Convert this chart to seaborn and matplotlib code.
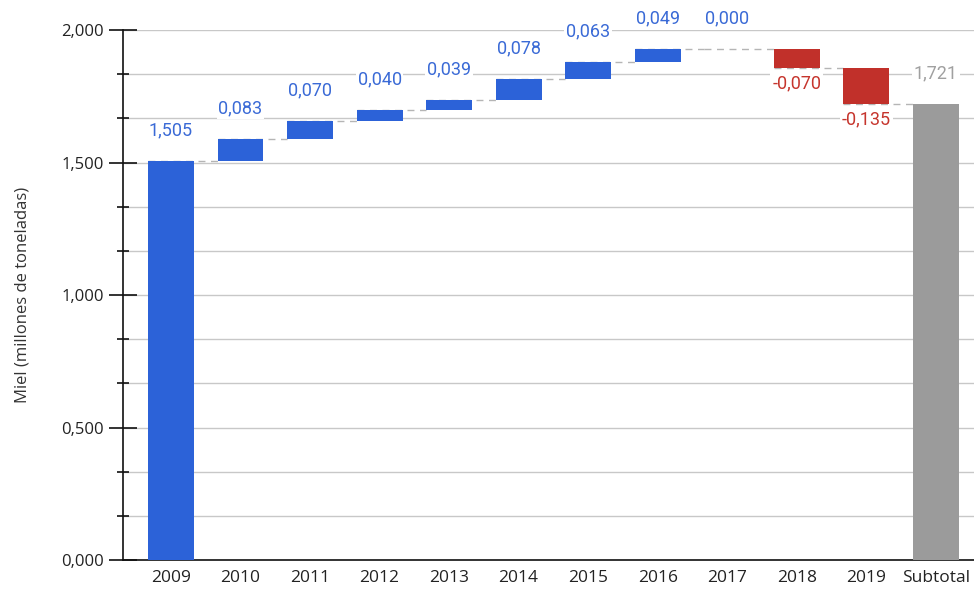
import numpy as np
import pandas as pd
import matplotlib
matplotlib.use("Agg")
import matplotlib.pyplot as plt
import seaborn as sns

# Honey production change by year (millions of tonnes)
categories = ["2009", "2010", "2011", "2012", "2013", "2014", "2015",
              "2016", "2017", "2018", "2019", "Subtotal"]
deltas = [1.505, 0.083, 0.070, 0.040, 0.039, 0.078, 0.063,
          0.049, 0.000, -0.070, -0.135]
subtotal = 1.721
ytick_values = [0.0, 0.5, 1.0, 1.5, 2.0]
ytick_labels = ["0,000", "0,500", "1,000", "1,500", "2,000"]

BLUE = "#2c62d8"
RED = "#c1302a"
GRAY = "#9b9b9b"
BLUE_TXT = "#3a6ad6"
RED_TXT = "#c6352d"
GRAY_TXT = "#a0a0a0"

# Waterfall geometry: running level before/after each step
ends = np.cumsum(deltas)
starts = np.concatenate([[0.0], ends[:-1]])
bottoms = list(np.minimum(starts, ends)) + [0.0]
heights = list(np.abs(deltas)) + [subtotal]
kinds = ["up" if d >= 0 else "down" for d in deltas] + ["total"]
colors = [{"up": BLUE, "down": RED, "total": GRAY}[k] for k in kinds]

df = pd.DataFrame({"cat": categories, "height": heights,
                   "bottom": bottoms, "kind": kinds})

sns.set_theme(style="white")
plt.rcParams["font.family"] = ["Open Sans", "DejaVu Sans"]

fig = plt.figure(figsize=(9.74, 5.90), dpi=100)
ax = fig.add_axes([0.1263, 0.0508, 0.8737, 0.8983])

w = 0.66
sns.barplot(data=df, x="cat", y="height", hue="cat", palette=colors,
            order=categories, hue_order=categories, legend=False,
            width=w, saturation=1, ax=ax, zorder=3)

# lift each bar onto its running base; no outlines
for patch, b, h in zip(ax.patches, df["bottom"], df["height"]):
    patch.set_y(b)
    patch.set_linewidth(0)
    if h == 0:
        patch.set_visible(False)

# dashed connectors: from each bar's left edge to the next bar's left edge
for i, lvl in enumerate(ends):
    ax.plot([i - w / 2, i + 1 - w / 2], [lvl, lvl], color="#b5b5b5",
            lw=1.0, ls=(0, (5, 4)), zorder=2)

# value labels
bbox = dict(boxstyle="square,pad=0.1", fc="white", ec="none")
lab_font = ["Roboto", "DejaVu Sans"]
for i, d in enumerate(deltas):
    txt = f"{d:.3f}".replace(".", ",")
    if d >= 0:
        ax.annotate(txt, (i, ends[i]), xytext=(0, 22), textcoords="offset points",
                    ha="center", va="center", color=BLUE_TXT, fontsize=13,
                    family=lab_font, bbox=bbox, zorder=5)
    else:
        ax.annotate(txt, (i, ends[i]), xytext=(0, -11), textcoords="offset points",
                    ha="center", va="center", color=RED_TXT, fontsize=13,
                    family=lab_font, bbox=bbox, zorder=5)
ax.annotate(f"{subtotal:.3f}".replace(".", ","), (len(deltas), subtotal),
            xytext=(0, 22), textcoords="offset points", ha="center", va="center",
            color=GRAY_TXT, fontsize=13, family=lab_font, bbox=bbox, zorder=5)

# axes
ax.set_xlim(-0.69, 11.55)
ax.set_ylim(0, 2.0)
ax.set_yticks(ytick_values)
ax.set_yticklabels(ytick_labels)
ax.set_yticks([k / 6 for k in range(13) if k % 3 != 0], minor=True)
ax.grid(axis="y", which="both", color="#c8c8c8", lw=1.0, zorder=0)
ax.set_axisbelow(True)
ax.tick_params(axis="y", which="major", direction="inout", length=20,
               width=1.2, color="#111111", labelsize=12, pad=4,
               labelcolor="#222222", left=True)
ax.tick_params(axis="y", which="minor", direction="inout", length=9,
               width=1.2, color="#111111", left=True)
ax.tick_params(axis="x", length=0, labelsize=12.5, pad=7, labelcolor="#222222")

for side in ["top", "right"]:
    ax.spines[side].set_visible(False)
for side in ["left", "bottom"]:
    ax.spines[side].set_visible(True)
    ax.spines[side].set_color("#111111")
    ax.spines[side].set_linewidth(1.2)

ax.set_xlabel("")
ax.set_ylabel("Miel (millones de toneladas)", fontsize=12, color="#333333",
              labelpad=22)

fig.savefig("out.png", dpi=100)
